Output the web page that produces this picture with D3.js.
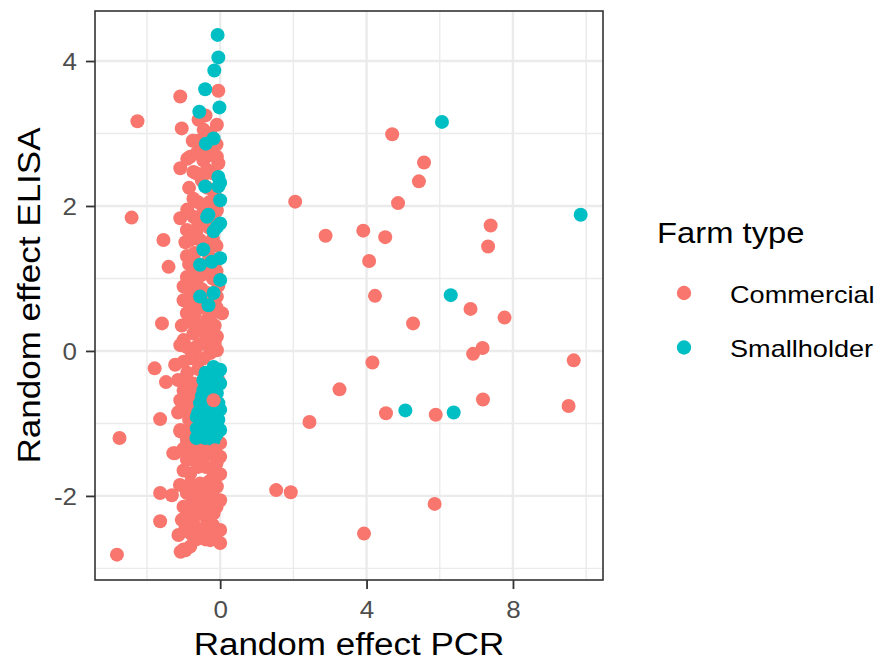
<!DOCTYPE html>
<html lang="en">
<head>
<meta charset="UTF-8">
<title>Random effects PCR vs ELISA</title>
<script src="https://cdn.jsdelivr.net/npm/d3@7"></script>
<style>
  html, body { margin: 0; padding: 0; background: #fff; overflow: hidden; }
  text { font-family: "Liberation Sans", Arial, sans-serif; }
</style>
</head>
<body>
<div id="chart"></div>
<script>
// data: [random effect PCR, random effect ELISA]
const commercial = [
  [4.70,2.99],[5.57,2.60],[5.43,2.34],[4.86,2.04],[2.05,2.06],[2.88,1.59],[3.91,1.66],[4.51,1.57],
  [4.07,1.24],[7.39,1.73],[7.32,1.44],[4.23,0.76],[5.27,0.38],[6.84,0.58],[7.77,0.46],[6.91,-0.04],
  [7.17,0.04],[9.66,-0.13],[3.26,-0.53],[4.16,-0.16],[4.53,-0.86],[5.89,-0.88],[7.18,-0.67],[9.52,-0.76],
  [2.44,-0.98],[1.53,-1.92],[1.93,-1.95],[5.86,-2.11],[3.93,-2.52],
  [-2.26,3.17],[-2.42,1.84],[-2.75,-1.20],[-2.82,-2.81],[-1.09,3.51],[-1.05,3.07],[-1.09,2.52],[-1.09,1.83],
  [-1.55,1.53],[-1.41,1.16],[-0.91,1.31],[-1.59,0.38],[-1.79,-0.24],[-1.48,-0.43],[-1.64,-0.94],[-1.64,-1.96],
  [-1.32,-1.99],[-1.64,-2.35],[-1.08,-2.77],[-0.95,-2.75],
  [-0.05,3.59],[-0.59,3.19],[-0.09,3.12],[-0.27,3.00],[-0.23,2.82],[-0.82,2.68],[-0.64,2.73],[-0.46,2.63],
  [-0.09,2.68],[-0.73,2.47],[-0.36,2.50],[-0.05,2.59],[-0.73,2.10],[-0.82,1.53],[-0.64,1.67],[-0.73,1.85],
  [-0.09,1.94],[-1.00,0.89],[-1.00,0.70],[-0.91,0.52],[-1.00,0.15],[-0.73,0.24],[-0.91,1.02],[-0.09,0.75],
  [0.05,0.52],[-0.36,0.43],[-0.55,0.29],[-0.09,0.20],[-0.27,0.06],[-0.64,0.98],[-0.36,1.09],[-0.55,1.53],
  [-0.91,1.67],[-1.09,0.08],[-0.64,0.06],[-1.23,-0.19],[-1.05,-0.42],[-1.09,-0.68],[-1.00,-0.81],[-1.09,-1.09],
  [-0.91,-1.23],[-0.27,-0.03],[-0.09,0.01],[-0.73,-0.45],[-0.46,-0.30],[-0.73,-1.37],
  [-1.23,-1.41],[-0.91,-1.50],[-0.36,-1.43],[0.00,-1.46],[-0.82,-1.69],[-0.18,-1.69],[-0.55,-1.83],[-0.91,-1.96],
  [-0.36,-1.94],[0.00,-2.06],[-1.00,-2.15],[-0.55,-2.10],[-0.18,-2.24],[-1.05,-2.33],[-0.73,-2.38],[-0.36,-2.33],
  [0.00,-2.47],[-1.14,-2.54],[-0.55,-2.51],[-0.27,-2.61],[0.00,-2.65],[-1.00,-2.74],[-0.82,-2.70],[-0.73,-2.19],
  [-0.82,-1.83],[-0.09,-1.87],[-1.28,-1.41],[-1.09,-1.11],[0.00,-1.27],
  [-0.45,-2.00],[-0.65,-2.25],[-0.20,-2.00],[-0.40,-2.60],[-0.60,-1.60],[-0.30,-1.20],[-0.50,-1.30],[-0.85,-1.10],
  [-0.70,-0.90],[-0.80,-0.60],[-0.90,-0.30],[-0.70,-0.10],[-0.50,0.10],[-0.40,0.25],[-0.80,0.40],[-0.65,0.60],
  [-0.50,0.85],[-0.80,0.80],[-0.30,1.30],[-0.60,1.20],[-0.75,1.05],[-0.10,1.45],[-0.10,1.10],[-0.15,0.35],
  [-0.30,1.70],[-0.45,1.95],[-0.15,2.15],[-0.50,2.35],[-0.25,2.70],[-0.60,2.90],[-0.40,3.25],[-0.05,0.90],
  [-0.05,-0.40],[-0.20,-2.40],[0.00,-1.70],[-0.85,-2.50],[-0.65,-2.60],
  [-0.95,-2.45],[-0.75,-2.55],[-0.45,-2.45],[-0.15,-2.55],[-0.90,-2.25],[-0.45,-2.25],[-0.10,-2.15],[-0.75,-2.05],
  [-0.30,-2.10],[-1.10,-1.85],[-0.65,-1.90],[-0.30,-1.80],[-1.00,-1.65],[-0.40,-1.60],[-0.10,-1.55],[-0.75,-1.50],
  [-0.55,-1.45],[-0.20,-1.35],[-1.00,-1.35],[-0.70,-1.25],[-0.85,-0.95],[-1.15,-0.85],[-0.90,-0.75],[-0.75,-0.70],
  [-1.00,-0.55],[-0.65,-0.55],[-1.15,-0.40],[-0.85,-0.45],[-0.60,-0.25],[-1.00,-0.15],[-0.80,-0.10],[-0.45,-0.10],
  [-0.15,0.10],[-0.90,0.05],[-0.30,0.20],[-0.60,0.35],[-1.05,0.35],[-0.25,0.50],[-0.70,0.50],[-0.45,0.60],
  [-0.85,0.65],[-0.10,0.60],[-0.35,0.80],[-0.70,0.90],[-0.20,1.00],[-0.50,1.05],[-0.85,1.20],[-0.10,1.25],
  [-0.40,1.45],[-0.70,1.35],[-0.20,1.55],[-0.95,1.50],[-0.60,1.75],[-0.15,1.80],[-0.90,1.95],[-0.60,2.05],
  [-0.30,2.05],[-0.85,2.25],[-0.35,2.25],[-0.65,2.45],[-0.20,2.45],[-0.90,2.65],[-0.50,2.75],[-0.10,2.85],
  [-0.75,2.90],[-0.45,3.05]
]
const smallholder = [
  [6.06,3.16],[9.85,1.88],[6.30,0.77],[5.06,-0.82],[6.38,-0.85],
  [-0.07,4.36],[-0.05,4.05],[-0.16,3.87],[-0.41,3.61],[-0.02,3.36],[-0.57,3.30],[-0.18,2.93],[-0.39,2.86],
  [-0.05,2.40],[0.00,2.32],[-0.41,2.27],[-0.05,2.27],[0.00,2.08],[-0.32,1.88],[0.00,1.76],[-0.18,1.65],
  [-0.46,1.40],[-0.55,1.19],[-0.23,1.23],[0.00,1.28],[0.00,0.98],[-0.55,0.75],[-0.32,0.63],[-0.18,0.80],
  [-0.36,1.85],[-0.09,1.71],
  [-0.18,-0.22],[0.00,-0.26],[-0.27,-0.35],[0.00,-0.45],[-0.46,-0.54],[-0.09,-0.58],[-0.55,-0.72],[-0.27,-0.81],
  [0.00,-0.81],[-0.64,-0.91],[-0.36,-0.95],[-0.05,-0.95],[-0.64,-1.07],[-0.32,-1.14],[0.00,-1.09],[-0.55,-1.18],
  [-0.18,-1.23],[-0.05,-0.72],[-0.46,-0.40],
  [-0.40,-0.30],[-0.10,-0.35],[-0.35,-0.60],[-0.20,-0.50],[-0.60,-0.85],[-0.45,-0.80],[-0.15,-0.85],[-0.50,-1.00],
  [-0.20,-1.00],[-0.40,-1.20],[-0.10,-1.15],[-0.65,-1.20],[-0.30,-0.70],[-0.50,-0.62]
]
// a few commercial points that sit on top of the smallholder cluster
const commercialTop = [[-0.18,-0.68],[-0.14,-1.37]]

const farmTypes = ['Commercial', 'Smallholder']
const farmColors = ['#F8766D', '#00BFC4']
const xMajor = [0, 4, 8]
const xMinor = [-2, 2, 6, 10]
const yMajor = [-2, 0, 2, 4]
const yMinor = [-3, -1, 1, 3]

const W = 881, H = 664
const panel = {left: 95, right: 603, top: 11, bottom: 580}
const stretch = 1.13  // the reference font runs wider than Arial

const svg = d3.select('#chart').append('svg').attr('width', W).attr('height', H)

const x = d3.scaleLinear().domain([-3.42, 10.46]).range([panel.left, panel.right])
const y = d3.scaleLinear().domain([-3.16, 4.69]).range([panel.bottom, panel.top])
const colour = d3.scaleOrdinal().domain(farmTypes).range(farmColors)

// grid
const grid = svg.append('g')
grid.selectAll('.xminor').data(xMinor).enter().append('line')
  .attr('x1', d => x(d)).attr('x2', d => x(d)).attr('y1', panel.top).attr('y2', panel.bottom)
  .style('stroke', '#EBEBEB').style('stroke-width', 1.4)
grid.selectAll('.yminor').data(yMinor).enter().append('line')
  .attr('y1', d => y(d)).attr('y2', d => y(d)).attr('x1', panel.left).attr('x2', panel.right)
  .style('stroke', '#EBEBEB').style('stroke-width', 1.4)
grid.selectAll('.xmajor').data(xMajor).enter().append('line')
  .attr('x1', d => x(d)).attr('x2', d => x(d)).attr('y1', panel.top).attr('y2', panel.bottom)
  .style('stroke', '#EBEBEB').style('stroke-width', 2.4)
grid.selectAll('.ymajor').data(yMajor).enter().append('line')
  .attr('y1', d => y(d)).attr('y2', d => y(d)).attr('x1', panel.left).attr('x2', panel.right)
  .style('stroke', '#EBEBEB').style('stroke-width', 2.4)

// points
const pts = svg.append('g')
function drawPoints(data, type) {
  pts.selectAll(null).data(data).enter().append('circle')
    .attr('cx', d => x(d[0])).attr('cy', d => y(d[1])).attr('r', 7)
    .style('fill', colour(type))
}
drawPoints(commercial, 'Commercial')
drawPoints(smallholder, 'Smallholder')
drawPoints(commercialTop, 'Commercial')

// panel border
svg.append('rect')
  .attr('x', panel.left).attr('y', panel.top)
  .attr('width', panel.right - panel.left).attr('height', panel.bottom - panel.top)
  .style('fill', 'none').style('stroke', '#333333').style('stroke-width', 1.6)

// axes
const xAxis = svg.append('g').attr('transform', `translate(0,${panel.bottom})`)
  .call(d3.axisBottom(x).tickValues(xMajor).tickSize(9).tickFormat(d => String(d)))
const yAxis = svg.append('g').attr('transform', `translate(${panel.left},0)`)
  .call(d3.axisLeft(y).tickValues(yMajor).tickSize(9).tickFormat(d => String(d)))
xAxis.select('.domain').remove()
yAxis.select('.domain').remove()
svg.selectAll('.tick line').style('stroke', '#333333').style('stroke-width', 1.8)
svg.selectAll('.tick text').style('font-size', '23px').style('fill', '#4D4D4D')
  .style('font-family', '"Liberation Sans", Arial, sans-serif')
xAxis.selectAll('.tick text').attr('y', null).attr('dy', null)
  .attr('transform', `translate(0,38) scale(${stretch},1)`)
yAxis.selectAll('.tick text').attr('x', null).attr('dy', '0.36em')
  .attr('transform', `translate(-18,0) scale(${stretch},1)`)

// axis titles
svg.append('text').text('Random effect PCR')
  .attr('transform', `translate(${(panel.left + panel.right) / 2},655) scale(${stretch},1)`)
  .style('text-anchor', 'middle').style('font-size', '31px').style('fill', '#000')
svg.append('text').text('Random effect ELISA')
  .attr('transform', `translate(40,${(panel.top + panel.bottom) / 2}) rotate(-90) scale(${stretch},1)`)
  .style('text-anchor', 'middle').style('font-size', '31px').style('fill', '#000')

// legend
const legend = svg.append('g')
legend.append('text').text('Farm type')
  .attr('transform', `translate(657,243) scale(${stretch},1)`)
  .style('font-size', '29px').style('fill', '#000')
const item = legend.selectAll('.item').data(farmTypes).enter().append('g')
  .attr('transform', (d, i) => `translate(0,${293 + i * 54.5})`)
item.append('circle').attr('cx', 684).attr('cy', 0).attr('r', 7.2).style('fill', d => colour(d))
item.append('text').text(d => d)
  .attr('transform', `translate(730,9.5) scale(${stretch},1)`)
  .style('font-size', '24px').style('fill', '#000')
</script>
</body>
</html>
